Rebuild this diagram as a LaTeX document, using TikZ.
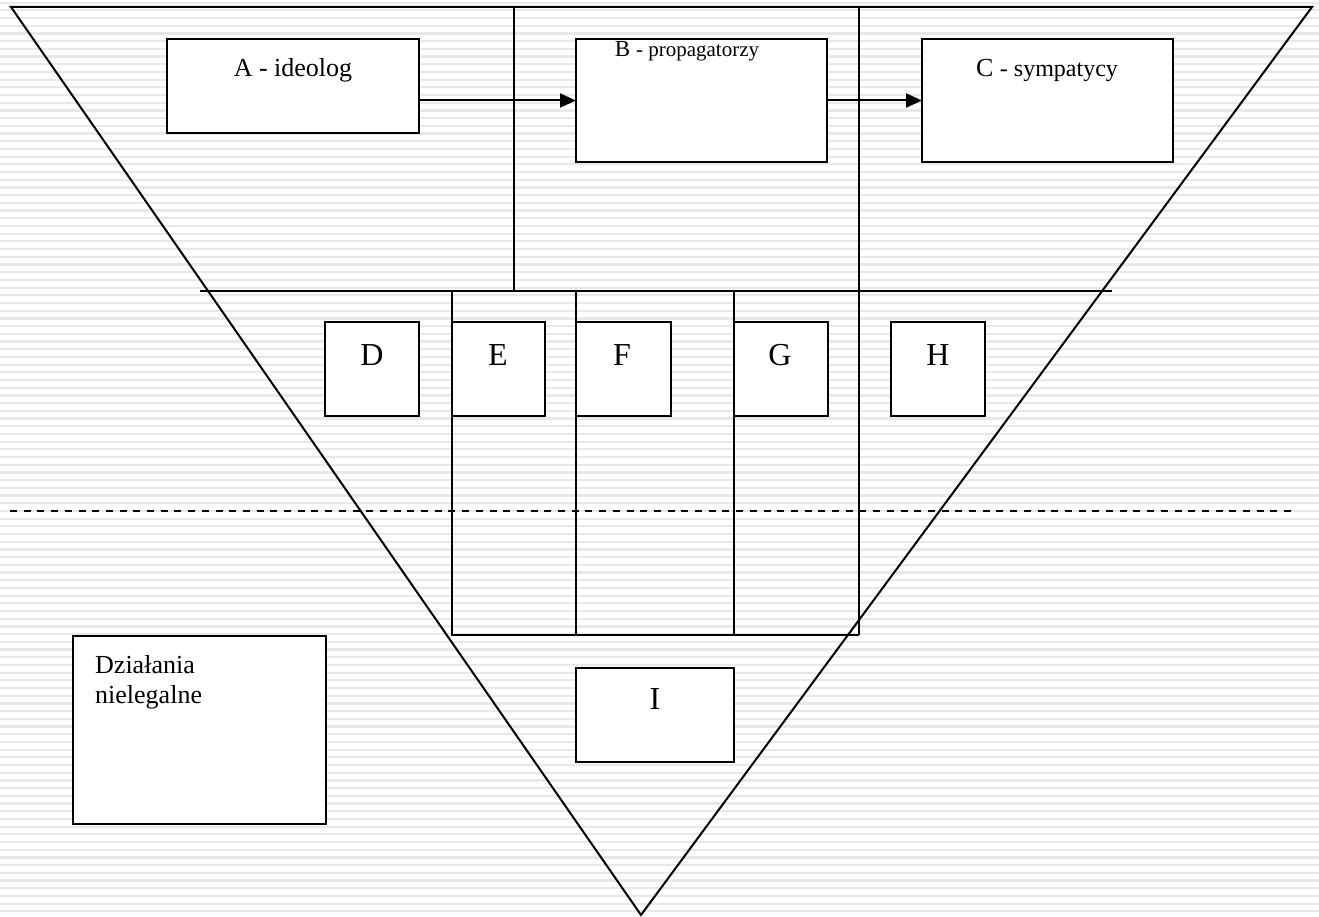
\documentclass[tikz,border=0pt]{standalone}
\usepackage{fontspec}
\setmainfont{Liberation Serif}
\usetikzlibrary{arrows.meta}
\definecolor{stripe}{HTML}{E8E8E8}
\begin{document}
\begin{tikzpicture}[x=1pt,y=-1pt,
  ln/.style={line width=2pt, draw=black},
  bx/.style={draw=black, line width=2pt, fill=white, anchor=north west, inner sep=0pt, outer sep=0pt},
  arr/.style={ln, -{Triangle[length=16pt,width=14pt]}},
  big/.style={anchor=base, font=\fontsize{32}{36}\selectfont},
  mid/.style={anchor=base, font=\fontsize{26}{30}\selectfont},
]
\useasboundingbox (0,0) rectangle (1319,917);
\fill[white] (0,0) rectangle (1319,917);
\foreach \i in {0,...,119} \fill[stripe] (0,{2.7+7.7*\i-1.1}) rectangle (1319,{2.7+7.7*\i+1.1});

% triangle
\coordinate (TL) at (11,7);
\coordinate (TR) at (1312,7);
\coordinate (AP) at (641,915);
\draw[ln, line join=miter] (TL) -- (TR) -- (AP) -- cycle;

% dividing lines
\coordinate (v1t) at (514,7);   \coordinate (v1b) at (514,291);
\coordinate (v2t) at (859,7);   \coordinate (v2b) at (859,635);
\coordinate (hl) at (200,291);  \coordinate (hr) at (1112,291);
\coordinate (eT) at (452,291);  \coordinate (eB) at (452,635);
\coordinate (fT) at (576,291);  \coordinate (fB) at (576,635);
\coordinate (gT) at (734,291);  \coordinate (gB) at (734,635);
\draw[ln] (v1t) -- (v1b);
\draw[ln] (v2t) -- (v2b);
\draw[ln] (hl) -- (hr);
\draw[ln] (eT) -- (eB) -- (v2b);
\draw[ln] (fT) -- (fB);
\draw[ln] (gT) -- (gB);

% dashed line
\coordinate (dl) at (10,511); \coordinate (dr) at (1292,511);
\draw[ln, dash pattern=on 7pt off 6.7pt] (dl) -- (dr);

% boxes
\node[bx, minimum width=252pt, minimum height=94pt] (A) at (167,39) {};
\node[bx, minimum width=251pt, minimum height=123pt] (B) at (576,39) {};
\node[bx, minimum width=251pt, minimum height=123pt] (C) at (922,39) {};
\node[bx, minimum width=94pt, minimum height=94pt] (D) at (325,322) {};
\node[bx, minimum width=93pt, minimum height=94pt] (E) at (452,322) {};
\node[bx, minimum width=95pt, minimum height=94pt] (F) at (576,322) {};
\node[bx, minimum width=94pt, minimum height=94pt] (G) at (734,322) {};
\node[bx, minimum width=94pt, minimum height=94pt] (H) at (891,322) {};
\node[bx, minimum width=158pt, minimum height=94pt] (I) at (576,668) {};
\node[bx, minimum width=253pt, minimum height=188pt] (Z) at (73,636) {};

% arrows
\draw[arr] ([yshift=-14.5pt]A.east) -- (B.west);
\draw[arr] (B.east) -- (C.west);

% texts
\node[mid] (tA) at (293,77) {A - ideolog};
\node[anchor=base] (tB) at (687,57) {\fontsize{23}{26}\selectfont B \fontsize{21}{24}\selectfont - propagatorzy};
\node[anchor=base] (tC) at (1047,77) {\fontsize{26}{30}\selectfont C \fontsize{24}{28}\selectfont - sympatycy};
\node[big] (tD) at (372,365) {D};
\node[big] (tE) at (498,365) {E};
\node[big] (tF) at (622,365) {F};
\node[big] (tG) at (780,365) {G};
\node[big] (tH) at (938,365) {H};
\node[big] (tI) at (655,709) {I};
\node[mid, anchor=base west, inner sep=0pt] (tZ1) at (95,673) {Działania};
\node[mid, anchor=base west, inner sep=0pt] (tZ2) at (95,703) {nielegalne};
\end{tikzpicture}
\end{document}
